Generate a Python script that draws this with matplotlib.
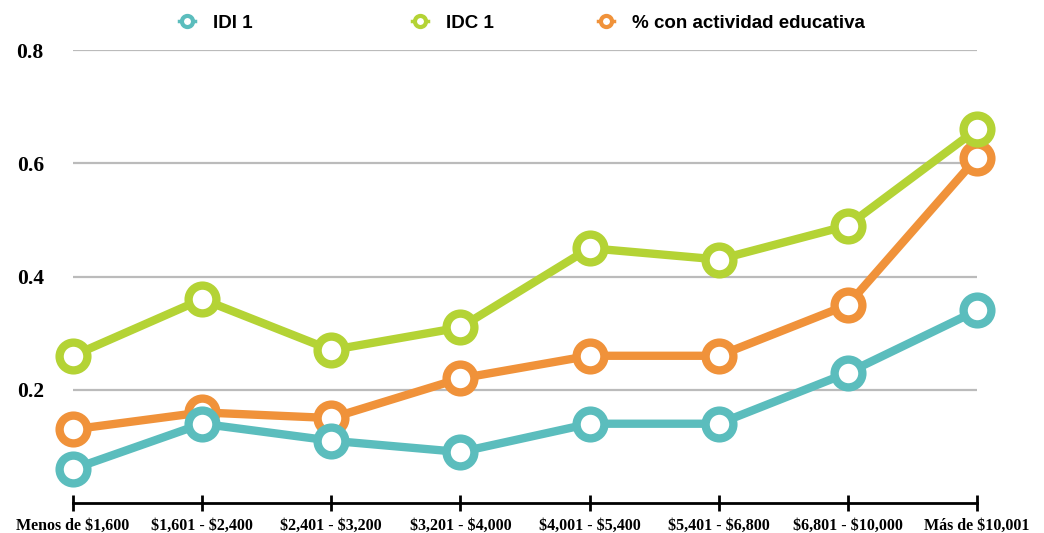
import matplotlib.pyplot as plt
from matplotlib.lines import Line2D

# Data
categories = ['Menos de $1,600', '$1,601 - $2,400', '$2,401 - $3,200', '$3,201 - $4,000',
              '$4,001 - $5,400', '$5,401 - $6,800', '$6,801 - $10,000', 'Más de $10,001']
idi1 = [0.06, 0.14, 0.11, 0.09, 0.14, 0.14, 0.23, 0.34]
idc1 = [0.26, 0.36, 0.27, 0.31, 0.45, 0.43, 0.49, 0.66]
actividad = [0.13, 0.16, 0.15, 0.22, 0.26, 0.26, 0.35, 0.61]
series_names = ['IDI 1', 'IDC 1', '% con actividad educativa']

teal = '#5bbdbd'
green = '#b4d335'
orange = '#f0923a'

fig = plt.figure(figsize=(10.44, 5.33), dpi=100)
ax = fig.add_axes([73 / 1044, 1 - 503 / 533, (977 - 73) / 1044, (503 - 50) / 533])

x = range(len(categories))
style = dict(lw=6, marker='o', ms=20, mew=6, mfc='white', solid_capstyle='round')
ax.plot(x, actividad, color=orange, zorder=3, **style)
ax.plot(x, idi1, color=teal, zorder=4, **style)
ax.plot(x, idc1, color=green, zorder=5, **style)

ax.set_xlim(0, len(categories) - 1)
ax.set_ylim(0, 0.8)
ax.set_yticks([0.2, 0.4, 0.6, 0.8])
ax.set_yticklabels(['0.2', '0.4', '0.6', '0.8'])
ax.set_xticks(list(x))
ax.set_xticklabels(categories)

ax.yaxis.grid(True, color='#bbbbbb', lw=1.6)
ax.set_axisbelow(True)
for s in ['top', 'right', 'left']:
    ax.spines[s].set_visible(False)
ax.spines['bottom'].set_linewidth(2)
ax.spines['bottom'].set_zorder(2)

ax.tick_params(axis='y', length=0, pad=21)
ax.tick_params(axis='x', direction='inout', length=12, width=2, pad=5)
for lab in ax.get_yticklabels():
    lab.set_fontfamily('Liberation Serif')
    lab.set_fontweight('bold')
    lab.set_fontsize(15.5)
for lab in ax.get_xticklabels():
    lab.set_parse_math(False)
    lab.set_fontfamily('Liberation Serif')
    lab.set_fontweight('bold')
    lab.set_fontsize(11.5)
for line in ax.get_lines():
    line.set_clip_on(False)

# Legend, one entry per position
colors = [teal, green, orange]
marker_x = [187, 420, 606]
for name, c, mx in zip(series_names, colors, marker_x):
    h = Line2D([], [], color=c, lw=2.5, marker='o', ms=8, mew=3, mfc='white')
    fig.legend([h], [name], loc='center left',
               bbox_to_anchor=((mx - 8) / 1044, 1 - 23 / 533), frameon=False,
               handlelength=0.85, handletextpad=0.95, borderaxespad=0, borderpad=0,
               prop={'family': 'Liberation Sans', 'weight': 'bold', 'size': 13.5})

fig.savefig('out.png', dpi=100)
